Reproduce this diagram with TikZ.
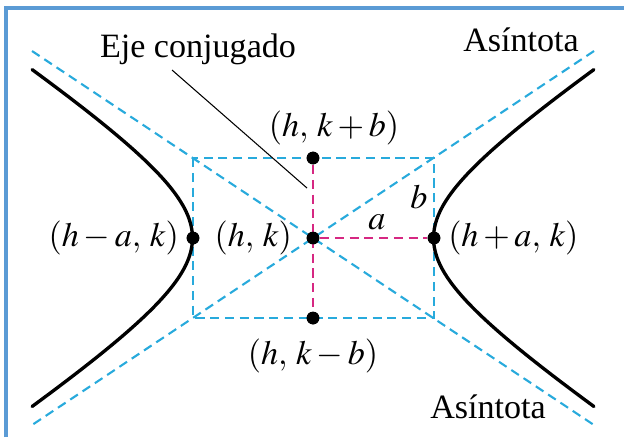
\documentclass[tikz,border=0pt]{standalone}
\usepackage{mathptmx}
\usepackage[no-math]{fontspec}
\setmainfont{Liberation Serif}
\usetikzlibrary{positioning}
\definecolor{asymblue}{RGB}{40,170,220}
\definecolor{axispink}{RGB}{214,40,130}
\definecolor{frameblue}{RGB}{91,155,213}

\begin{document}
\begin{tikzpicture}[x=0.1mm, y=-0.1mm, font=\fontsize{9.7}{12}\selectfont,
  dot/.style={circle, fill=black, inner sep=0pt, minimum size=3.6pt},
  lbl/.style={inner sep=1pt},
  asym/.style={asymblue, line width=0.6pt, dash pattern=on 2.6pt off 1.6pt},
  axisline/.style={axispink, line width=0.6pt, dash pattern=on 2.6pt off 1.6pt},
  branch/.style={line width=0.95pt, line cap=round}
]
\useasboundingbox (0,0) rectangle (624,437);

% frame
\draw[frameblue, line width=0.9pt] (6,437) -- (6,8) -- (624,8);

% box and asymptotes
\coordinate (tl) at (193,158);
\coordinate (br) at (434,318);
\coordinate (ul) at (32,51);
\coordinate (lr) at (594,425);
\coordinate (ur) at (594,51);
\coordinate (ll) at (32,425);

\draw[asym] (tl) rectangle (br);
\draw[asym] (ul) -- (lr);
\draw[asym] (ur) -- (ll);

% points
\node[dot] (c) at (313,238) {};
\node[dot] (top) at (313,158) {};
\node[dot] (bot) at (313,318) {};
\node[dot] (lv) at (193,238) {};
\node[dot] (rv) at (434,238) {};

\draw[axisline] (top) -- (bot);
\draw[axisline] (c) -- (rv);

% branches
\draw[branch] plot[domain=-1.49:1.49, samples=60, smooth, variable=\t]
  ({313+120.5*cosh(\t)}, {238-80*sinh(\t)});
\draw[branch] plot[domain=-1.49:1.49, samples=60, smooth, variable=\t]
  ({313-120.5*cosh(\t)}, {238-80*sinh(\t)});

% redraw dots on top
\foreach \p in {c,top,bot,lv,rv}
  \fill (\p) circle (1.8pt);

% labels
\node[lbl, left=0.3mm of lv] {$(h - a,\: k)$};
\node[lbl, right=0.3mm of rv] {$(h + a,\: k)$};
\node[lbl, left=1mm of c] {$(h,\: k)$};
\node[lbl, below=1mm of bot] {$(h,\: k - b)$};
\node[lbl] (toplbl) at (334,128) {$(h,\: k + b)$};
\node[lbl] (alabel) at (377,222) {$a$};
\node[lbl] (blabel) at (419,197) {$b$};

\node[lbl] (eje) at (198,49) {Eje conjugado};
\node[lbl] (asymtop) at (521,40) {Asíntota};
\node[lbl] (asymbot) at (488,407) {Asíntota};

\coordinate (ejefoot) at (172,70);
\coordinate (ejetip) at (307,188);
\draw[line width=0.3pt] (ejefoot) -- (ejetip);

\end{tikzpicture}
\end{document}
